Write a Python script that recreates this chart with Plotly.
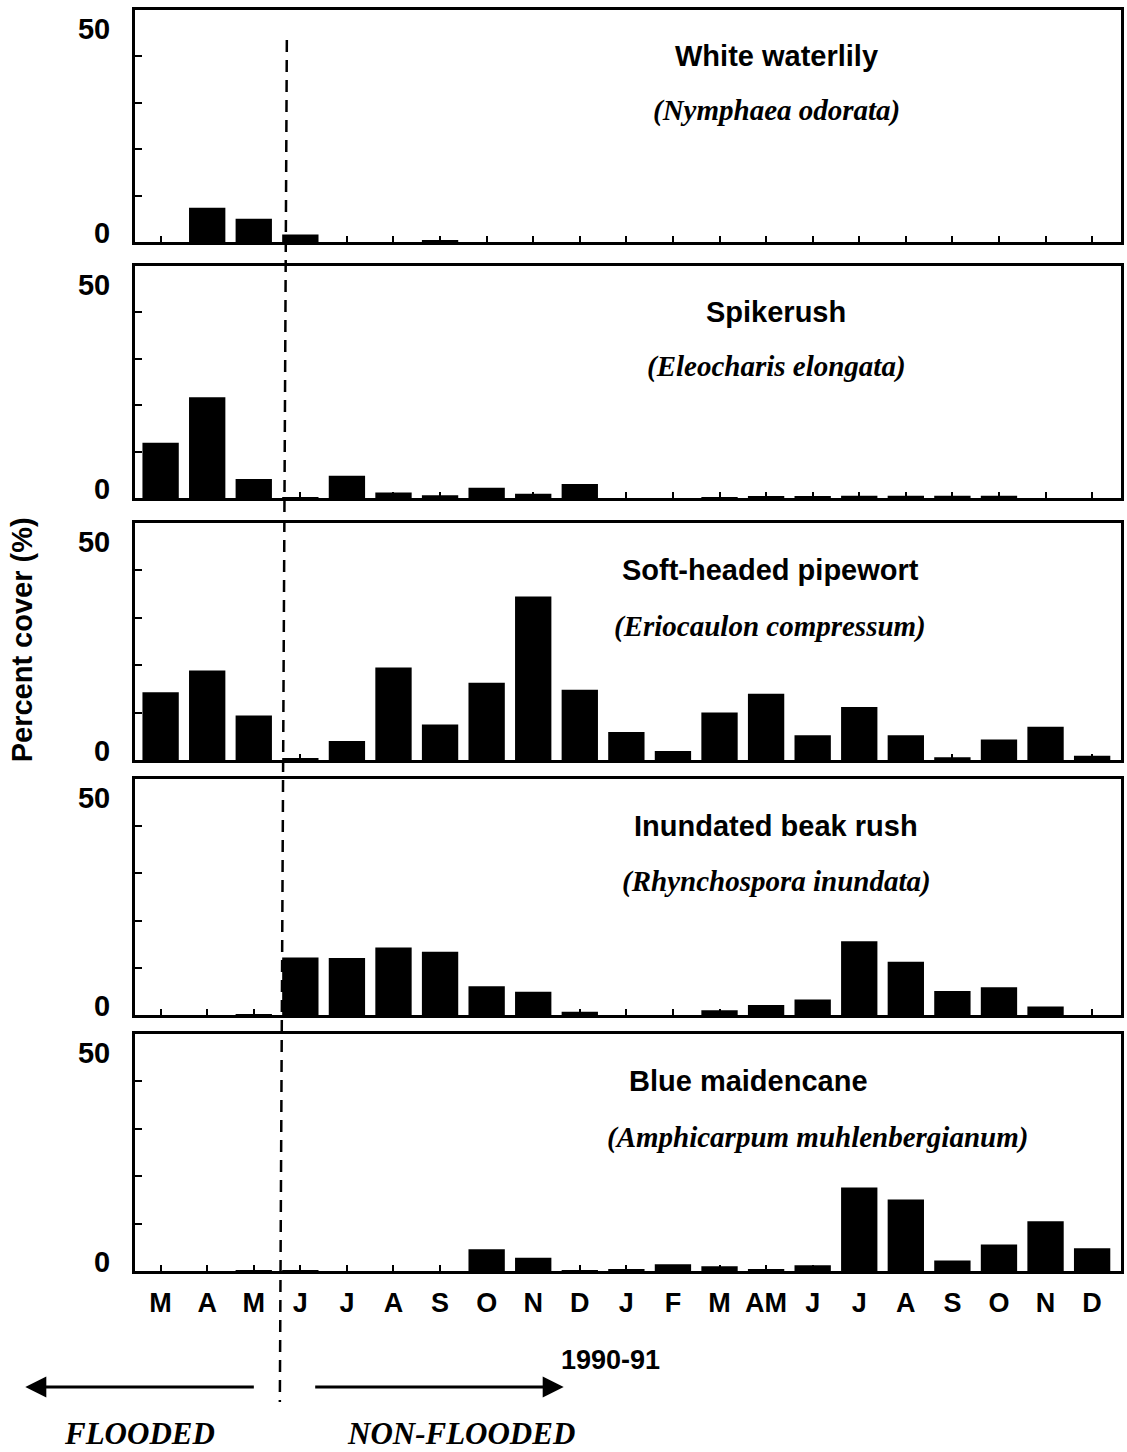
import plotly.graph_objects as go
from plotly.subplots import make_subplots

# ---------------- data ----------------
months = ["M", "A", "M", "J", "J", "A", "S", "O", "N", "D",
          "J", "F", "M", "AM", "J", "J", "A", "S", "O", "N", "D"]
x_index = list(range(len(months)))

common_names = ["White waterlily", "Spikerush", "Soft-headed pipewort",
                "Inundated beak rush", "Blue maidencane"]
latin_names = ["(Nymphaea odorata)", "(Eleocharis elongata)",
               "(Eriocaulon compressum)", "(Rhynchospora inundata)",
               "(Amphicarpum muhlenbergianum)"]

white_waterlily = [0, 7.4, 5.0, 1.6, 0, 0, 0.4, 0, 0, 0, 0,
                   0, 0, 0, 0, 0, 0, 0, 0, 0, 0]
spikerush = [11.9, 21.7, 4.1, 0.2, 4.8, 1.2, 0.6, 2.2, 0.9, 3.0, 0,
             0, 0.2, 0.3, 0.4, 0.5, 0.5, 0.5, 0.5, 0, 0]
pipewort = [14.3, 18.9, 9.4, 0.3, 4.0, 19.5, 7.5, 16.3, 34.5, 14.8, 5.9,
            1.9, 10.0, 14.0, 5.2, 11.2, 5.2, 0.6, 4.3, 7.0, 0.9]
beak_rush = [0, 0, 0.2, 12.2, 12.1, 14.3, 13.4, 6.1, 4.9, 0.7, 0,
             0, 1.0, 2.1, 3.3, 15.6, 11.3, 5.1, 5.9, 1.8, 0]
maidencane = [0, 0, 0.2, 0.2, 0, 0, 0, 4.6, 2.8, 0.2, 0.4,
              1.4, 1.0, 0.3, 1.2, 17.6, 15.1, 2.2, 5.6, 10.5, 4.8]

series = [white_waterlily, spikerush, pipewort, beak_rush, maidencane]

y_ticktext = ["0", "50"]
x_title = "1990-91"
y_title = "Percent cover (%)"

# ---------------- figure ----------------
W, H = 1127, 1452
ML, MR, MT, MB = 135, 3, 10, 181
plot_h = H - MT - MB

# panel pixel extents (top, bottom) measured from the top of the page
panels_px = [(10, 242), (266, 498), (523, 760), (779, 1015), (1034, 1271)]


def py_to_paper(py):
    return (H - MB - py) / plot_h


def px_to_paper(px):
    return (px - ML) / (W - ML - MR)


fig = make_subplots(rows=5, cols=1)

for i, vals in enumerate(series):
    fig.add_trace(go.Bar(x=x_index, y=vals, width=0.78,
                         marker=dict(color="black", line=dict(width=0)),
                         showlegend=False), row=i + 1, col=1)

font_sans = "Liberation Sans"
for i in range(5):
    top, bot = panels_px[i]
    yname = "yaxis" if i == 0 else f"yaxis{i + 1}"
    xname = "xaxis" if i == 0 else f"xaxis{i + 1}"
    fig.layout[yname].update(
        domain=[py_to_paper(bot), py_to_paper(top)],
        range=[0, 50], showgrid=False, zeroline=False,
        showline=True, mirror=True, linewidth=3, linecolor="black",
        tickmode="array", tickvals=[2, 46], ticktext=y_ticktext,
        ticks="", ticklabelstandoff=16,
        tickfont=dict(family=font_sans, size=29, color="black", weight="bold"),
        minor=dict(tickmode="array", tickvals=[10, 20, 30, 40],
                   ticks="inside", ticklen=7, tickwidth=2, tickcolor="black"),
    )
    fig.layout[xname].update(
        range=[-0.55, 20.62], showgrid=False, zeroline=False,
        showline=True, mirror=True, linewidth=3, linecolor="black",
        tickmode="array", tickvals=x_index, ticktext=months,
        ticks="inside", ticklen=6, tickwidth=2, tickcolor="black",
        showticklabels=(i == 4), ticklabelstandoff=6,
        tickfont=dict(family=font_sans, size=27, color="black", weight="bold"),
    )

annotations = []
# species labels
for i in range(5):
    yref = "y domain" if i == 0 else f"y{i + 1} domain"
    if i == 4:
        xc1, xc2 = 750, 820
    elif i == 2:
        xc1, xc2 = 772, 772
    else:
        xc1, xc2 = 778, 778
    annotations.append(dict(text="<b>" + common_names[i] + "</b>", xref="paper", yref=yref,
                            x=px_to_paper(xc1), y=0.80, xanchor="center", yanchor="middle",
                            showarrow=False,
                            font=dict(family=font_sans, size=29, color="black")))
    annotations.append(dict(text="<b><i>" + latin_names[i] + "</i></b>", xref="paper", yref=yref,
                            x=px_to_paper(xc2), y=0.565, xanchor="center", yanchor="middle",
                            showarrow=False,
                            font=dict(family="Liberation Serif", size=29, color="black")))

# y-axis title
annotations.append(dict(text="<b>" + y_title + "</b>", xref="paper", yref="paper",
                        x=px_to_paper(22), y=py_to_paper(640), textangle=-90,
                        xanchor="center", yanchor="middle", showarrow=False,
                        font=dict(family=font_sans, size=29, color="black")))
# x-axis title
annotations.append(dict(text="<b>" + x_title + "</b>", xref="paper", yref="paper",
                        x=px_to_paper(612), y=py_to_paper(1360),
                        xanchor="center", yanchor="middle", showarrow=False,
                        font=dict(family=font_sans, size=27, color="black")))
# arrows
arrow_y = py_to_paper(1387)
annotations.append(dict(text="", xref="paper", yref="paper",
                        x=px_to_paper(25), y=arrow_y, ax=230, ay=0,
                        axref="pixel", ayref="pixel", showarrow=True,
                        arrowhead=2, arrowsize=1.4, arrowwidth=3, arrowcolor="black"))
annotations.append(dict(text="", xref="paper", yref="paper",
                        x=px_to_paper(565), y=arrow_y, ax=-250, ay=0,
                        axref="pixel", ayref="pixel", showarrow=True,
                        arrowhead=2, arrowsize=1.4, arrowwidth=3, arrowcolor="black"))
# flooded labels
for txt, xc in [("FLOODED", 140), ("NON-FLOODED", 462)]:
    annotations.append(dict(text="<b><i>" + txt + "</i></b>", xref="paper", yref="paper",
                            x=px_to_paper(xc), y=py_to_paper(1433),
                            xanchor="center", yanchor="middle", showarrow=False,
                            font=dict(family="Liberation Serif", size=31, color="black")))

# dashed flood boundary line crossing all panels
shapes = [dict(type="line", xref="x5", yref="paper",
               x0=2.71, y0=py_to_paper(40), x1=2.56, y1=py_to_paper(1402),
               line=dict(color="black", width=2.5, dash="12px,8px"))]

fig.update_layout(
    width=W, height=H,
    margin=dict(l=ML, r=MR, t=MT, b=MB),
    paper_bgcolor="white", plot_bgcolor="white",
    bargap=0.2, annotations=annotations, shapes=shapes,
    showlegend=False,
)

fig.write_html("out.html")
